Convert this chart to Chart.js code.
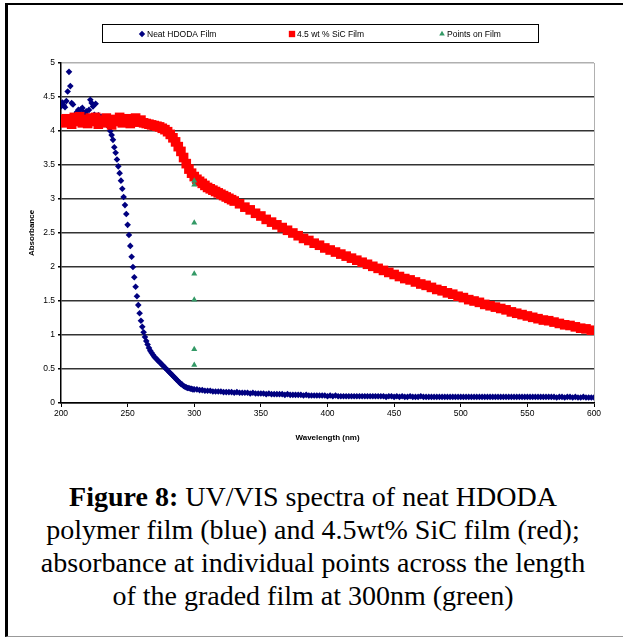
<!DOCTYPE html>
<html lang="en">
<head>
<meta charset="UTF-8" />
<title>UV/VIS spectra</title>
<script src="https://cdn.jsdelivr.net/npm/chart.js"></script>
<style>
  body { margin: 0; background: #fff; }
  .frame { position: absolute; left: 5px; top: 3px; width: 618px; height: 631px;
           border-top: 2px solid #000; border-left: 3px solid #000; border-bottom: 1px solid #999; }
  #wrap { position: absolute; left: 0; top: 0; width: 623px; height: 460px; }
  .caption { position: absolute; left: 8px; width: 610px; top: 480px; text-align: center;
             font-family: "Liberation Serif", "Times New Roman", serif; font-size: 28px;
             line-height: 33px; color: #000; }
</style>
</head>
<body>
<div class="frame"></div>
<div id="wrap"><canvas id="grafico" width="623" height="460"></canvas></div>
<div class="caption">
  <b>Figure 8:</b> UV/VIS spectra of neat HDODA<br>
  polymer film (blue) and 4.5wt% SiC film (red);<br>
  absorbance at individual points across the length<br>
  of the graded film at 300nm (green)
</div>
<script>
  function faixa(ini, fim, passo) {
    const r = [];
    for (let v = ini; v <= fim; v += passo) r.push(v);
    return r;
  }

  // neat HDODA film: 200-300 nm every 1 nm, then 302-600 every 2 nm
  const comprimentoAzul = faixa(200, 300, 1).concat(faixa(302, 600, 2));
  const absorbanciaAzul = [
    4.36, 4.42, 4.38, 4.35, 4.44, 4.58, 4.87, 4.66, 4.41, 4.39,
    4.21, 4.25, 4.28, 4.31, 4.26, 4.32, 4.34, 4.27, 4.23, 4.29,
    4.22, 4.31, 4.46, 4.41, 4.36, 4.24, 4.40, 4.21, 4.23, 4.18,
    4.21, 4.17, 4.19, 4.16, 4.18, 4.12, 4.06, 4.00, 3.94, 3.87,
    3.76, 3.68, 3.58, 3.48, 3.38, 3.27, 3.15, 3.03, 2.91, 2.78,
    2.62, 2.47, 2.31, 2.15, 2.00, 1.85, 1.71, 1.57, 1.44, 1.32,
    1.21, 1.12, 1.04, 0.97, 0.91, 0.86, 0.81, 0.77, 0.74, 0.71,
    0.68, 0.66, 0.64, 0.62, 0.60, 0.58, 0.56, 0.54, 0.52, 0.50,
    0.48, 0.46, 0.44, 0.42, 0.40, 0.38, 0.36, 0.34, 0.32, 0.30,
    0.28, 0.27, 0.25, 0.24, 0.23, 0.22, 0.22, 0.21, 0.21, 0.20,
    0.20,
    0.20, 0.19, 0.19, 0.18, 0.18, 0.18, 0.17, 0.17, 0.17, 0.17,
    0.16, 0.16, 0.16, 0.16, 0.15, 0.16, 0.15, 0.15, 0.15, 0.15,
    0.14, 0.15, 0.14, 0.14, 0.14, 0.14, 0.13, 0.14, 0.13, 0.13,
    0.13, 0.13, 0.13, 0.12, 0.13, 0.12, 0.12, 0.12, 0.12, 0.12,
    0.11, 0.12, 0.11, 0.11, 0.11, 0.11, 0.11, 0.11, 0.11, 0.10,
    0.11, 0.10, 0.11, 0.10, 0.10, 0.10, 0.10, 0.10, 0.10, 0.10,
    0.10, 0.10, 0.10, 0.10, 0.10, 0.10, 0.10, 0.10, 0.10, 0.10,
    0.10, 0.09, 0.10, 0.10, 0.09, 0.10, 0.09, 0.10, 0.09, 0.09,
    0.10, 0.09, 0.09, 0.09, 0.10, 0.09, 0.09, 0.09, 0.09, 0.09,
    0.09, 0.09, 0.09, 0.09, 0.09, 0.09, 0.09, 0.09, 0.09, 0.09,
    0.09, 0.09, 0.09, 0.09, 0.09, 0.09, 0.09, 0.09, 0.09, 0.09,
    0.09, 0.09, 0.09, 0.09, 0.09, 0.09, 0.09, 0.09, 0.09, 0.09,
    0.09, 0.09, 0.09, 0.09, 0.09, 0.09, 0.09, 0.09, 0.09, 0.09,
    0.09, 0.09, 0.09, 0.09, 0.09, 0.08, 0.09, 0.09, 0.08, 0.09,
    0.09, 0.08, 0.09, 0.08, 0.08, 0.09, 0.08, 0.08, 0.08, 0.08
  ];

  // 4.5 wt % SiC film: 200-330 nm every 2 nm, then 334-598 every 4 nm
  const comprimentoVermelho = faixa(200, 330, 2).concat(faixa(334, 598, 4));
  const absorbanciaVermelho = [
    4.17, 4.12, 4.18, 4.15, 4.10, 4.20, 4.14, 4.21, 4.12, 4.17,
    4.11, 4.19, 4.14, 4.20, 4.10, 4.16, 4.12, 4.19, 4.13, 4.09,
    4.17, 4.14, 4.20, 4.12, 4.16, 4.18, 4.11, 4.15, 4.19, 4.13,
    4.16, 4.12, 4.11,
    4.10, 4.09, 4.08, 4.07, 4.06, 4.04, 4.02, 3.99, 3.95, 3.90,
    3.84, 3.77, 3.70, 3.61, 3.52, 3.44, 3.38, 3.33, 3.29, 3.26,
    3.23, 3.20, 3.17, 3.15, 3.13, 3.11, 3.09, 3.07, 3.05, 3.03,
    3.01, 2.99, 2.97,
    2.93, 2.88, 2.84, 2.79, 2.75, 2.70, 2.66, 2.62, 2.58, 2.54,
    2.50, 2.46, 2.42, 2.39, 2.35, 2.32, 2.28, 2.25, 2.22, 2.19,
    2.16, 2.13, 2.10, 2.07, 2.04, 2.01, 1.98, 1.95, 1.92, 1.89,
    1.86, 1.83, 1.81, 1.78, 1.75, 1.73, 1.70, 1.67, 1.65, 1.62,
    1.60, 1.57, 1.55, 1.52, 1.50, 1.48, 1.45, 1.43, 1.41, 1.39,
    1.37, 1.34, 1.32, 1.30, 1.28, 1.26, 1.24, 1.22, 1.21, 1.19,
    1.17, 1.15, 1.14, 1.12, 1.10, 1.09, 1.07
  ];

  // points on the graded film, all read at 300 nm
  const comprimentoVerde = [300, 300, 300, 300, 300, 300, 300];
  const absorbanciaVerde = [3.27, 3.21, 2.65, 1.90, 1.52, 0.79, 0.56];

  const rotulos = ['Neat HDODA Film', '4.5 wt % SiC Film', 'Points on Film'];
  const ticksX = [200, 250, 300, 350, 400, 450, 500, 550, 600];
  const ticksY = [0, 0.5, 1, 1.5, 2, 2.5, 3, 3.5, 4, 4.5, 5];

  const pontos = (xs, ys) => xs.map((x, i) => ({ x: x, y: ys[i] }));

  // legend drawn as an Excel-style boxed row
  const legendaBox = {
    id: 'legendaBox',
    afterDraw(chart) {
      const ctx = chart.ctx;
      ctx.save();
      ctx.strokeStyle = '#000';
      ctx.lineWidth = 1;
      ctx.strokeRect(102.5, 24.5, 436, 18);
      chart.data.datasets.forEach((ds, i) => {
        const cx = 142 + i * 150, cy = 34;
        ctx.fillStyle = ds.backgroundColor;
        Chart.helpers.drawPoint(ctx, { pointStyle: ds.pointStyle, radius: ds.pointStyle === 'rect' ? 4.5 : 3.2, rotation: 0, borderWidth: 0 }, cx, cy);
        ctx.fillStyle = '#000';
        ctx.font = '8.5px "Liberation Sans", Arial, sans-serif';
        ctx.textBaseline = 'middle';
        ctx.fillText(ds.label, cx + 5, cy + 0.5);
      });
      ctx.restore();
    }
  };

  const fonteEixo = { family: '"Liberation Sans", Arial, sans-serif', size: 8.5 };
  const fonteTitulo = { family: '"Liberation Sans", Arial, sans-serif', size: 8, weight: 'bold' };

  new Chart(document.getElementById('grafico'), {
    type: 'scatter',
    data: {
      datasets: [
        {
          label: rotulos[0],
          data: pontos(comprimentoAzul, absorbanciaAzul),
          backgroundColor: '#000080',
          borderColor: '#000080',
          pointStyle: 'rectRot',
          pointRadius: 3.3,
          pointBorderWidth: 0,
          order: 2
        },
        {
          label: rotulos[1],
          data: pontos(comprimentoVermelho, absorbanciaVermelho),
          backgroundColor: '#ff0000',
          borderColor: '#ff0000',
          pointStyle: 'rect',
          pointRadius: 6.8,
          pointBorderWidth: 0,
          order: 1
        },
        {
          label: rotulos[2],
          data: pontos(comprimentoVerde, absorbanciaVerde),
          backgroundColor: '#339966',
          borderColor: '#339966',
          pointStyle: 'triangle',
          pointRadius: 3.5,
          pointBorderWidth: 0,
          order: 0
        }
      ]
    },
    options: {
      responsive: false,
      animation: false,
      layout: { padding: { top: 63, right: 29, left: 0, bottom: 0 } },
      plugins: {
        legend: { display: false },
        tooltip: { enabled: false }
      },
      scales: {
        x: {
          type: 'linear',
          min: 200,
          max: 600,
          afterBuildTicks: s => { s.ticks = ticksX.map(v => ({ value: v })); },
          afterFit: s => { s.height = 57; },
          ticks: { font: fonteEixo, color: '#000', padding: 2, maxRotation: 0 },
          grid: {
            color: c => c.tick && c.tick.value === 600 ? '#b0b0b0' : 'rgba(0,0,0,0)',
            tickColor: '#000',
            tickLength: 4
          },
          border: { color: '#000', width: 1.5 },
          title: { display: true, text: 'Wavelength (nm)', font: fonteTitulo, color: '#000', padding: { top: 4, bottom: 17 } }
        },
        y: {
          min: 0,
          max: 5,
          afterBuildTicks: s => { s.ticks = ticksY.map(v => ({ value: v })); },
          afterFit: s => { s.width = 61; },
          ticks: { font: fonteEixo, color: '#000', padding: 3, callback: v => String(v) },
          grid: {
            color: c => c.tick && c.tick.value === 5 ? '#b0b0b0' : '#333',
            lineWidth: 1.5,
            tickColor: '#000',
            tickLength: 3
          },
          border: { color: '#000', width: 1.5 },
          title: { display: true, text: 'Absorbance', font: fonteTitulo, color: '#000', padding: { top: 27, bottom: 0 } }
        }
      }
    },
    plugins: [legendaBox]
  });
</script>
</body>
</html>
